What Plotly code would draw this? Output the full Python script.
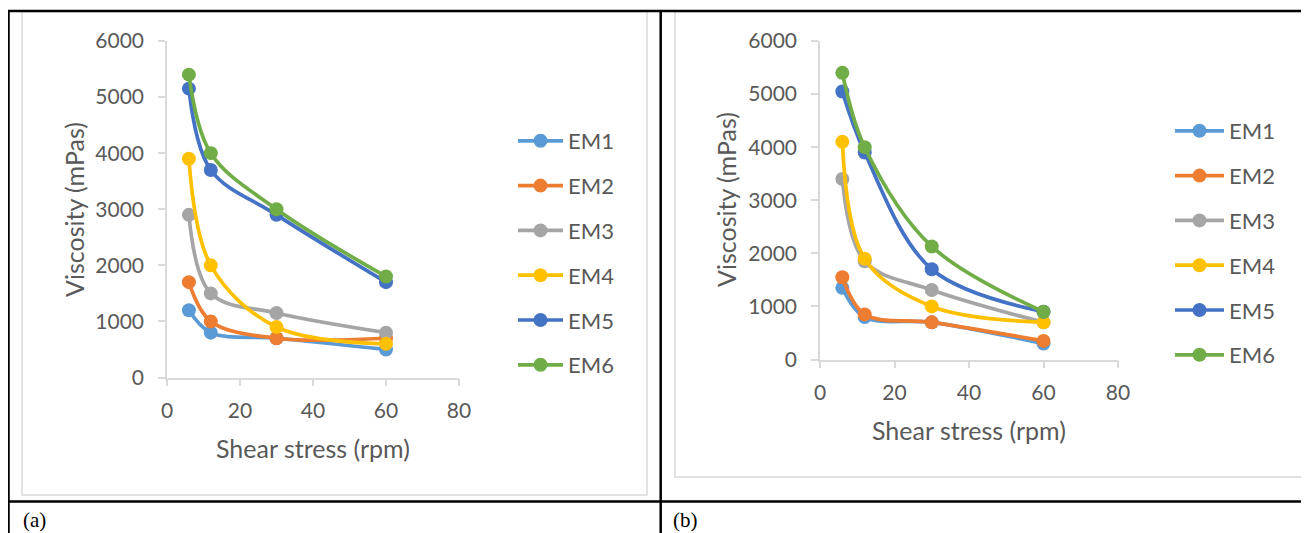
import plotly.graph_objects as go

# page body has an 8px margin, so the figure is shifted by that amount
OFF = 8
W, H = 1309 - OFF, 533 - OFF

rpm = [6, 12, 30, 60]
series_names = ["EM1", "EM2", "EM3", "EM4", "EM5", "EM6"]
colors = ["#5B9BD5", "#ED7D31", "#A5A5A5", "#FFC000", "#4472C4", "#70AD47"]

visc_a_em1 = [1200, 800, 700, 500]
visc_a_em2 = [1700, 1000, 700, 700]
visc_a_em3 = [2900, 1500, 1150, 800]
visc_a_em4 = [3900, 2000, 900, 600]
visc_a_em5 = [5150, 3700, 2900, 1700]
visc_a_em6 = [5400, 4000, 3000, 1800]

visc_b_em1 = [1350, 800, 700, 300]
visc_b_em2 = [1550, 850, 700, 350]
visc_b_em3 = [3400, 1850, 1310, 700]
visc_b_em4 = [4100, 1900, 1000, 700]
visc_b_em5 = [5050, 3900, 1700, 900]
visc_b_em6 = [5400, 4000, 2130, 900]

panel_a = [visc_a_em1, visc_a_em2, visc_a_em3, visc_a_em4, visc_a_em5, visc_a_em6]
panel_b = [visc_b_em1, visc_b_em2, visc_b_em3, visc_b_em4, visc_b_em5, visc_b_em6]

x_ticks = [0, 20, 40, 60, 80]
y_ticks = [0, 1000, 2000, 3000, 4000, 5000, 6000]
x_title = "Shear stress (rpm)"
y_title = "Viscosity (mPas)"
panel_labels = ["(a)", "(b)"]

FONT = "Lato"
TXT = "#595959"
GRID = "#d9d9d9"


def px(x):
    return (x - OFF) / W


def py(y):
    return 1 - (y - OFF) / H


fig = go.Figure()

for vals, name, col in zip(panel_a, series_names, colors):
    fig.add_trace(go.Scatter(
        x=rpm, y=vals, name=name, mode="lines+markers",
        line=dict(color=col, width=3.7, shape="spline", smoothing=1),
        marker=dict(color=col, size=14),
        xaxis="x", yaxis="y", legend="legend", legendgroup="a" + name,
    ))
for vals, name, col in zip(panel_b, series_names, colors):
    fig.add_trace(go.Scatter(
        x=rpm, y=vals, name=name, mode="lines+markers",
        line=dict(color=col, width=3.7, shape="spline", smoothing=1),
        marker=dict(color=col, size=14),
        xaxis="x2", yaxis="y2", legend="legend2", legendgroup="b" + name,
    ))

axis_common = dict(
    showgrid=False, zeroline=False, showline=True, linecolor=GRID, linewidth=1.5,
    ticks="outside", ticklen=7, tickcolor=GRID, tickwidth=1.5,
    tickfont=dict(family=FONT, size=21, color=TXT), automargin=False,
)

pa = dict(x0=167, x1=459, y0=377.5, y1=41)
pb = dict(x0=820, x1=1118, y0=359.5, y1=41)

fig.update_layout(
    width=W, height=H, autosize=False,
    margin=dict(l=0, r=0, t=0, b=0, pad=0, autoexpand=False),
    paper_bgcolor="white", plot_bgcolor="white",
    xaxis=dict(domain=[px(pa["x0"]), px(pa["x1"])], range=[0, 80], tickvals=x_ticks,
               anchor="y", ticklabelstandoff=7, **axis_common),
    yaxis=dict(domain=[py(pa["y0"]), py(pa["y1"])], range=[0, 6000], tickvals=y_ticks,
               anchor="x", ticklabelstandoff=10, **axis_common),
    xaxis2=dict(domain=[px(pb["x0"]), px(pb["x1"])], range=[0, 80], tickvals=x_ticks,
                anchor="y2", ticklabelstandoff=7, **axis_common),
    yaxis2=dict(domain=[py(pb["y0"]), py(pb["y1"])], range=[0, 6000], tickvals=y_ticks,
                anchor="x2", ticklabelstandoff=10, **axis_common),
    legend=dict(x=px(513), y=py(120), xanchor="left", yanchor="top",
                font=dict(family=FONT, size=22, color=TXT), itemwidth=45,
                tracegroupgap=13.2, bgcolor="rgba(0,0,0,0)"),
    legend2=dict(x=px(1170), y=py(110), xanchor="left", yanchor="top",
                 font=dict(family=FONT, size=22, color=TXT), itemwidth=49,
                 tracegroupgap=13.2, bgcolor="rgba(0,0,0,0)"),
)

title_font = dict(family=FONT, size=25, color=TXT)
# axis titles
fig.add_annotation(x=px(313), y=py(448), text=x_title, font=title_font)
fig.add_annotation(x=px(74), y=py(210), text=y_title, textangle=-90, font=title_font)
fig.add_annotation(x=px(969), y=py(430), text=x_title, font=title_font)
fig.add_annotation(x=px(726), y=py(200), text=y_title, textangle=-90, font=title_font)

# panel labels
label_font = dict(family="Liberation Serif", size=21, color="black")
fig.add_annotation(x=px(21), y=py(520), text=panel_labels[0], xanchor="left", font=label_font)
fig.add_annotation(x=px(671), y=py(520), text=panel_labels[1], xanchor="left", font=label_font)

fig.update_annotations(xref="paper", yref="paper", showarrow=False, yanchor="middle")
for ann in fig.layout.annotations:
    if ann.xanchor is None:
        ann.xanchor = "center"

# chart area frames
fig.add_shape(type="rect", xref="paper", yref="paper", x0=px(22), x1=px(647), y0=py(495), y1=py(11.5),
              line=dict(color=GRID, width=1.5), layer="below")
fig.add_shape(type="rect", xref="paper", yref="paper", x0=px(675), x1=px(1305), y0=py(477), y1=py(11.5),
              line=dict(color=GRID, width=1.5), layer="below")

# table lines
for (x0, y0, x1, y1) in [(7.5, 11, 1309, 11), (8.5, 11, 8.5, 533), (660.7, 11, 660.7, 533),
                         (7.5, 501.5, 1309, 501.5)]:
    fig.add_shape(type="line", xref="paper", yref="paper", x0=px(x0), y0=py(y0), x1=px(x1), y1=py(y1),
                  line=dict(color="black", width=2.5))

fig.write_html("out.html")
